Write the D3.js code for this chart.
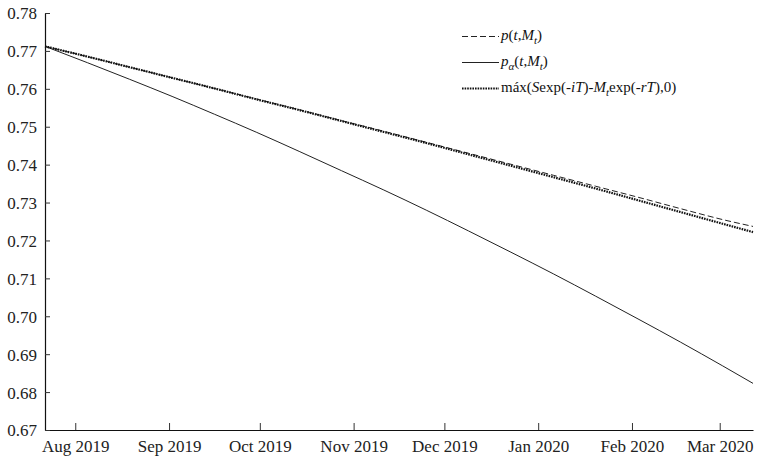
<!DOCTYPE html>
<html>
<head>
<meta charset="utf-8">
<script src="https://cdn.jsdelivr.net/npm/d3@7"></script>
<style>
  body { margin: 0; background: #fff; }
</style>
</head>
<body>
<svg id="chart"></svg>
<script>
// data (half-monthly points)
const dates = ["2019-07-22", "2019-08-05", "2019-08-19", "2019-09-02", "2019-09-16", "2019-09-30",
    "2019-10-14", "2019-10-28", "2019-11-11", "2019-11-25", "2019-12-09", "2019-12-23",
    "2020-01-06", "2020-01-20", "2020-02-03", "2020-02-17", "2020-03-02", "2020-03-12"];
const pValues = [0.7712, 0.7685, 0.7657, 0.7629, 0.7601, 0.7573, 0.7545, 0.7516, 0.7488,
    0.7459, 0.7430, 0.7401, 0.7372, 0.7343, 0.7314, 0.7284, 0.7255, 0.7237];
const pAlphaValues = [0.7712, 0.7669, 0.7625, 0.7580, 0.7533, 0.7485, 0.7435, 0.7384, 0.7333,
    0.7280, 0.7225, 0.7169, 0.7112, 0.7053, 0.6993, 0.6932, 0.6869, 0.6823];
const maxValues = [0.7712, 0.7685, 0.7657, 0.7629, 0.7601, 0.7572, 0.7544, 0.7515, 0.7486,
    0.7457, 0.7427, 0.7397, 0.7367, 0.7337, 0.7306, 0.7275, 0.7244, 0.7222];
const yTicks = [0.67, 0.68, 0.69, 0.70, 0.71, 0.72, 0.73, 0.74, 0.75, 0.76, 0.77, 0.78];
const xTicks = ["2019-08-01", "2019-09-01", "2019-10-01", "2019-11-01", "2019-12-01",
    "2020-01-01", "2020-02-01", "2020-03-01"];

const config = {
    width: 759,
    height: 457,
    margin: {top: 13, right: 6, bottom: 27, left: 45}
};
const FONT = "'Liberation Serif', 'Times New Roman', serif";

const parse = d3.timeParse("%Y-%m-%d");
const svg = d3.select("#chart")
    .attr("width", config.width)
    .attr("height", config.height)
    .style("font-family", FONT);

const x = d3.scaleTime()
    .domain([parse(dates[0]), parse(dates[dates.length - 1])])
    .range([config.margin.left, config.width - config.margin.right]);
const y = d3.scaleLinear()
    .domain([0.67, 0.78])
    .range([config.height - config.margin.bottom, config.margin.top]);

// axes, ticks pointing inward
const xAxis = d3.axisBottom(x)
    .tickValues(xTicks.map(parse))
    .tickFormat(d3.timeFormat("%b %Y"))
    .tickSizeInner(-7)
    .tickSizeOuter(0)
    .tickPadding(10);
const gx = svg.append("g")
    .attr("transform", `translate(0,${y(0.67)})`)
    .call(xAxis);

const yAxis = d3.axisLeft(y)
    .tickValues(yTicks)
    .tickFormat(d3.format(".2f"))
    .tickSizeInner(-5)
    .tickSizeOuter(0)
    .tickPadding(8);
const gy = svg.append("g")
    .attr("transform", `translate(${config.margin.left},0)`)
    .call(yAxis);

[gx, gy].forEach(g => {
    g.attr("font-family", null);
    g.select(".domain").attr("stroke", "#111").attr("stroke-width", 1.2);
    g.selectAll(".tick line").attr("stroke", "#333");
    g.selectAll(".tick text")
        .style("font-family", FONT)
        .style("font-size", "17px")
        .attr("fill", "#222");
});
gy.selectAll(".tick text").attr("dy", "0.35em");

// lines
const series = [
    {values: pValues, dash: "6,3", width: 1, color: "#222"},
    {values: pAlphaValues, dash: null, width: 1, color: "#222"},
    {values: maxValues, dash: "1.6,1", width: 2.2, color: "#111"}
];
const line = d3.line()
    .x(d => x(d.date))
    .y(d => y(d.v))
    .curve(d3.curveMonotoneX);

series.forEach(s => {
    const pts = dates.map((d, i) => ({date: parse(d), v: s.values[i]}));
    svg.append("path")
        .datum(pts)
        .attr("fill", "none")
        .attr("stroke", s.color)
        .attr("stroke-width", s.width)
        .attr("stroke-dasharray", s.dash)
        .attr("d", line);
});

// legend
const legend = svg.append("g").attr("transform", "translate(462,0)");
const rows = [36, 62, 88];
series.forEach((s, i) => {
    legend.append("line")
        .attr("x1", 0).attr("x2", 37)
        .attr("y1", rows[i] + 0.5).attr("y2", rows[i] + 0.5)
        .attr("stroke", s.color)
        .attr("stroke-width", s.width)
        .attr("stroke-dasharray", s.dash);
});

function addLabel(yy, parts) {
    const t = legend.append("text")
        .attr("x", 39).attr("y", yy + 4)
        .style("font-family", FONT)
        .style("font-size", "15px")
        .attr("fill", "#111");
    parts.forEach(p => {
        const ts = t.append("tspan").text(p.t);
        if (p.i) ts.style("font-style", "italic");
        if (p.sub) ts.attr("baseline-shift", "-4").style("font-size", "11px");
    });
}
addLabel(rows[0], [{t: "p", i: 1}, {t: "("}, {t: "t", i: 1}, {t: ","}, {t: "M", i: 1},
    {t: "t", i: 1, sub: 1}, {t: ")"}]);
addLabel(rows[1], [{t: "p", i: 1}, {t: "α", i: 1, sub: 1}, {t: "("}, {t: "t", i: 1}, {t: ","},
    {t: "M", i: 1}, {t: "t", i: 1, sub: 1}, {t: ")"}]);
addLabel(rows[2], [{t: "máx("}, {t: "S", i: 1}, {t: "exp(-"}, {t: "iT", i: 1}, {t: ")-"},
    {t: "M", i: 1}, {t: "t", i: 1, sub: 1}, {t: "exp(-"}, {t: "rT", i: 1}, {t: "),0)"}]);
</script>
</body>
</html>
